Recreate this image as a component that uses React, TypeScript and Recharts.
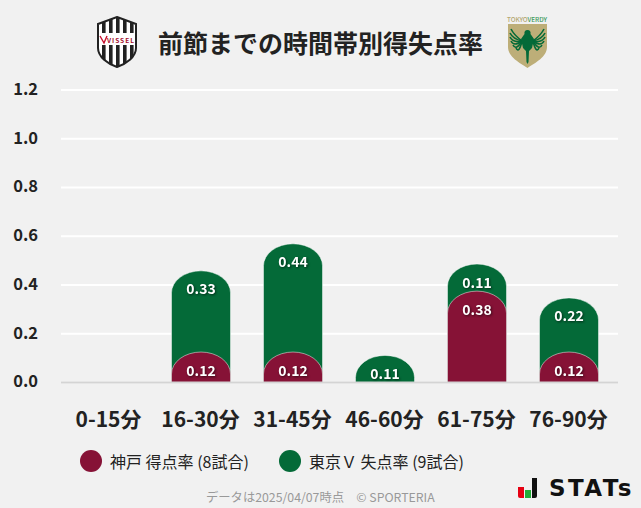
import React from 'react';
import { BarChart, Bar, XAxis, YAxis, CartesianGrid, LabelList } from 'recharts';

const categories = ['0-15分', '16-30分', '31-45分', '46-60分', '61-75分', '76-90分'];
const kobeScored = [0, 0.125, 0.125, 0, 0.375, 0.125];
const verdyConceded = [0, 0.333, 0.444, 0.111, 0.111, 0.222];
const kobeLabels = ['', '0.12', '0.12', '', '0.38', '0.12'];
const verdyLabels = ['', '0.33', '0.44', '0.11', '0.11', '0.22'];
const yTicks = [0, 0.2, 0.4, 0.6, 0.8, 1.0, 1.2];

const title = '前節までの時間帯別得失点率';
const kobeLegend = '神戸 得点率 (8試合)';
const verdyLegend = '東京Ｖ 失点率 (9試合)';
const footer = 'データは2025/04/07時点　© SPORTERIA';

const MAROON = '#861236';
const GREEN = '#046a38';
const FONT = '"Noto Sans CJK JP", "Noto Sans", sans-serif';

// green sits on top of maroon, but maroon overlaps its rounded bottom
const data = categories.map((name, i) => ({
  name,
  kobe: kobeScored[i],
  total: kobeScored[i] + verdyConceded[i],
}));

const DomeBar = (props: any) => {
  const { x, y, width, height, fill } = props;
  if (!height || height <= 0) return null;
  const ry = Math.min(22, height);
  const rx = width / 2;
  const d = `M${x},${y + height} L${x},${y + ry} A${rx},${ry} 0 0 1 ${x + width},${y + ry} L${x + width},${y + height} Z`;
  return <path d={d} fill={fill} stroke="#ffffff" strokeOpacity={0.6} strokeWidth={0.8} />;
};

const valueLabel = (labels: string[]) => (props: any) => {
  const { x, y, width, index } = props;
  if (!labels[index]) return null;
  return (
    <text
      x={x + width / 2}
      y={y + 17.5}
      textAnchor="middle"
      dominantBaseline="central"
      fill="#ffffff"
      fontSize={14}
      fontWeight={700}
      fontFamily={FONT}
      style={{ filter: 'drop-shadow(1px 1px 1px rgba(0,0,0,0.55))' }}
    >
      {labels[index]}
    </text>
  );
};

const VisselCrest = () => {
  const outline = 'M21,1 L40,8 L40,32 C40,41 30,48 21,51 C12,48 2,41 2,32 L2,8 Z';
  return (
    <svg width={42} height={52} viewBox="0 0 42 52" style={{ position: 'absolute', left: 96, top: 16 }}>
      <defs>
        <clipPath id="crest">
          <path d={outline} />
        </clipPath>
      </defs>
      <path d={outline} fill="#ffffff" stroke="#222222" strokeWidth={2} />
      <g clipPath="url(#crest)" fill="#222222">
        <rect x={6} y={0} width={3.6} height={52} />
        <rect x={13} y={0} width={3.6} height={52} />
        <rect x={20} y={0} width={3.6} height={52} />
        <rect x={27} y={0} width={3.6} height={52} />
        <rect x={34} y={0} width={3.6} height={52} />
        <rect x={3} y={17} width={36} height={12} fill="#ffffff" />
      </g>
      <path d="M4,20 L8,27 L11,20" fill="none" stroke="#c8102e" strokeWidth={1.4} />
      <text x={11} y={26.5} fontSize={6.6} fontWeight={700} fontFamily={FONT} fill="#a50f2d" textLength={27}>
        VISSEL
      </text>
    </svg>
  );
};

const VerdyCrest = () => {
  const feathers = [
    [5, 12],
    [4, 16],
    [4, 20],
    [5, 24],
    [7, 28],
    [10, 31],
  ];
  return (
    <svg width={44} height={54} viewBox="0 0 44 54" style={{ position: 'absolute', left: 505, top: 15 }}>
      <text x={22} y={6.5} textAnchor="middle" fontSize={6.4} fontWeight={500} fontFamily={FONT} fill="#b5a873" textLength={40}>
        TOKYO<tspan fill="#3e9a5c">VERDY</tspan>
      </text>
      <path d="M3,9 L42,9 L42,32 C42,42 30,48 22.5,53 C15,48 3,42 3,32 Z" fill="#bdae78" />
      <g stroke={GREEN} strokeWidth={1.6} fill="none">
        {feathers.map(([fx, fy]) => (
          <g key={`${fx}-${fy}`}>
            <path d={`M17,26 Q${fx + 4},${fy + 8} ${fx + 1},${fy + 2}`} />
            <path d={`M28,26 Q${41 - fx},${fy + 8} ${44 - fx},${fy + 2}`} />
          </g>
        ))}
      </g>
      <path
        d="M22.5,15 C25,15 26,17 25.5,19 L29,24 L27,33 L24,36 L23.5,47 L22.5,49 L21.5,47 L21,36 L18,33 L16,24 L19.5,19 C19,17 20,15 22.5,15 Z"
        fill={GREEN}
      />
    </svg>
  );
};

const StatsLogo = () => (
  <div style={{ position: 'absolute', left: 518, top: 477 }}>
    <svg width={20} height={22} viewBox="0 0 20 22" style={{ position: 'absolute', left: 0, top: 0 }}>
      <path d="M0,10 L6,10 L6,21 L2,21 Q0,21 0,19 Z" fill="#e60012" />
      <rect x={7} y={13} width={6} height={8} fill="#22ac38" />
      <path d="M14,1 L19,1 L19,19 Q19,21 17,21 L14,21 Z" fill="#111111" />
    </svg>
    <div
      style={{
        position: 'absolute',
        left: 31,
        top: -2,
        fontFamily: '"DejaVu Sans", sans-serif',
        fontWeight: 700,
        fontSize: 23,
        letterSpacing: 2.4,
        color: '#111111',
        whiteSpace: 'nowrap',
      }}
    >
      STATs
    </div>
  </div>
);

const LegendItem = ({ left, color, text }: { left: number; color: string; text: string }) => (
  <div style={{ position: 'absolute', left, top: 450, height: 22, whiteSpace: 'nowrap' }}>
    <div style={{ position: 'absolute', left: 0, top: 0, width: 22, height: 22, borderRadius: 11, background: color }} />
    <div style={{ position: 'absolute', left: 30, top: 0, lineHeight: '22px', fontSize: 16, color: '#222222', fontFamily: FONT }}>{text}</div>
  </div>
);

export default function App() {
  return (
    <div style={{ position: 'absolute', left: 0, top: 0, width: 641, height: 508, overflow: 'hidden', background: '#f1f1f1', fontFamily: FONT }}>
      <VisselCrest />
      <VerdyCrest />
      <div
        style={{
          position: 'absolute',
          left: 158,
          top: 24,
          width: 325,
          lineHeight: '36px',
          fontSize: 25,
          fontWeight: 700,
          color: '#222222',
          whiteSpace: 'nowrap',
        }}
      >
        {title}
      </div>

      <BarChart
        width={641}
        height={508}
        data={data}
        margin={{ top: 90, right: 23, bottom: 65.5, left: 0 }}
        style={{ position: 'absolute', left: 0, top: 0 }}
      >
        <CartesianGrid vertical={false} stroke="#ffffff" strokeWidth={2} />
        <XAxis
          xAxisId="front"
          dataKey="name"
          padding={{ left: 1.5, right: 3.5 }}
          tickLine={false}
          axisLine={{ stroke: '#d4d4d4', strokeWidth: 2 }}
          tickMargin={24}
          height={60}
          interval={0}
          tick={{ fill: '#222222', fontSize: 21, fontWeight: 700, fontFamily: FONT }}
        />
        <XAxis xAxisId="back" dataKey="name" padding={{ left: 1.5, right: 3.5 }} height={0} hide />
        <YAxis
          domain={[0, 1.2]}
          ticks={yTicks}
          width={61}
          tickLine={false}
          axisLine={false}
          tickSize={0}
          tickMargin={23}
          interval={0}
          tickFormatter={(v: number) => v.toFixed(1)}
          tick={{ fill: '#222222', fontSize: 16.5, fontWeight: 700, fontFamily: FONT, dy: -1 }}
        />
        <Bar xAxisId="back" dataKey="total" fill={GREEN} barSize={59} shape={DomeBar} isAnimationActive={false}>
          <LabelList dataKey="total" content={valueLabel(verdyLabels)} />
        </Bar>
        <Bar xAxisId="front" dataKey="kobe" fill={MAROON} barSize={59} shape={DomeBar} isAnimationActive={false}>
          <LabelList dataKey="kobe" content={valueLabel(kobeLabels)} />
        </Bar>
      </BarChart>

      <LegendItem left={80} color={MAROON} text={kobeLegend} />
      <LegendItem left={279} color={GREEN} text={verdyLegend} />
      <div
        style={{
          position: 'absolute',
          left: 206,
          top: 488,
          lineHeight: '18px',
          fontSize: 12.3,
          color: '#999999',
          whiteSpace: 'nowrap',
        }}
      >
        {footer}
      </div>
      <StatsLogo />
    </div>
  );
}
